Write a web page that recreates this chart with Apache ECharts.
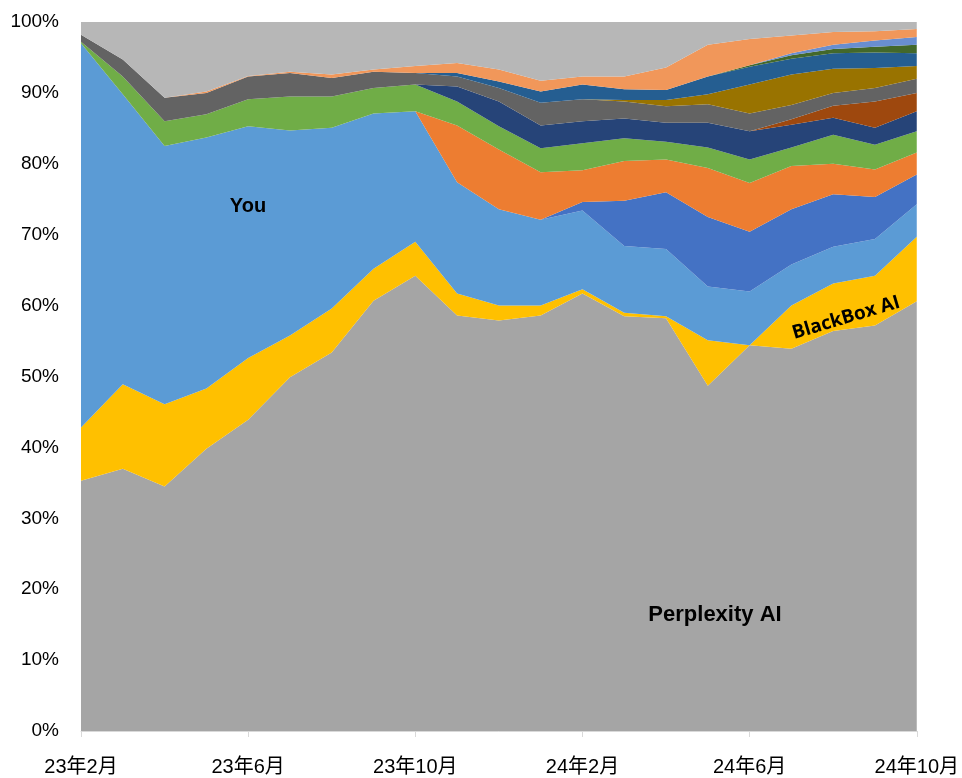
<!DOCTYPE html>
<html>
<head>
<meta charset="utf-8">
<script src="https://cdn.jsdelivr.net/npm/echarts@6/dist/echarts.min.js"></script>
<style>
  html, body { margin: 0; padding: 0; background: #fff; }
  #chart { width: 962px; height: 778px; }
</style>
</head>
<body>
<div id="chart"></div>
<script>
// 월별 카테고리 (23년2월 ~ 24년10월)
const months = [
  '23年2月', '23年3月', '23年4月', '23年5月', '23年6月', '23年7月', '23年8月',
  '23年9月', '23年10月', '23年11月', '23年12月', '24年1月', '24年2月', '24年3月',
  '24年4月', '24年5月', '24年6月', '24年7月', '24年8月', '24年9月', '24年10月'
];

// 아래에서 위로 쌓이는 순서 (%)
const perplexity = [35.3, 37.0, 34.5, 39.8, 43.9, 49.9, 53.4, 60.7, 64.2, 58.6, 57.9, 58.6, 61.7, 58.5, 58.2, 48.7, 54.4, 53.9, 56.4, 57.2, 60.6];
const blackbox   = [7.5, 11.9, 11.6, 8.5, 8.7, 5.9, 6.2, 4.5, 4.8, 3.1, 2.1, 1.4, 0.6, 0.5, 0.3, 6.4, 0, 6.1, 6.7, 7.0, 9.1];
const you        = [54.2, 40.9, 36.4, 35.4, 32.7, 28.9, 25.5, 21.9, 18.4, 15.7, 13.6, 12.1, 11.1, 9.4, 9.5, 7.6, 7.6, 5.8, 5.2, 5.2, 4.6];
const blue       = [0, 0, 0, 0, 0, 0, 0, 0, 0, 0, 0, 0, 1.2, 6.4, 8.0, 9.8, 8.4, 7.8, 7.4, 5.9, 4.2];
const orange     = [0, 0, 0, 0, 0, 0, 0, 0, 0, 8.0, 8.4, 6.7, 4.5, 5.6, 4.6, 6.9, 6.9, 6.1, 4.3, 3.9, 3.1];
const green      = [0.2, 2.5, 3.5, 3.3, 3.8, 4.8, 4.4, 3.6, 3.8, 3.4, 3.3, 3.4, 3.8, 3.2, 2.5, 2.9, 3.3, 2.6, 4.1, 3.5, 3.0];
const navy       = [0, 0, 0, 0, 0, 0, 0, 0, 0, 2.1, 3.5, 3.2, 3.1, 2.8, 2.7, 3.5, 4.0, 3.2, 2.4, 2.4, 2.8];
const brown      = [0, 0, 0, 0, 0, 0, 0, 0, 0, 0, 0, 0, 0, 0, 0, 0, 0, 0.8, 1.7, 3.7, 2.6];
const darkGray   = [1.0, 2.4, 3.3, 3.0, 3.2, 3.3, 2.6, 2.3, 1.6, 1.4, 1.9, 3.2, 3.1, 2.4, 2.3, 2.6, 2.5, 2.0, 1.8, 1.9, 2.0];
const olive      = [0, 0, 0, 0, 0, 0, 0, 0, 0, 0, 0, 0, 0, 0.2, 0.9, 1.4, 4.1, 4.3, 3.4, 2.8, 1.8];
const darkBlue   = [0, 0, 0, 0, 0, 0, 0, 0, 0, 0.5, 0.9, 1.6, 2.1, 1.5, 1.4, 2.5, 2.5, 2.2, 2.2, 2.2, 1.8];
const darkGreen  = [0, 0, 0, 0, 0, 0, 0, 0, 0, 0, 0, 0, 0, 0, 0, 0, 0.2, 0.5, 0.6, 0.8, 1.2];
const lightBlue  = [0, 0, 0, 0, 0, 0, 0, 0, 0, 0, 0, 0, 0, 0, 0, 0, 0, 0.3, 0.6, 0.9, 1.1];
const lightOrange= [0, 0, 0, 0.2, 0.1, 0.2, 0.5, 0.3, 1.0, 1.4, 1.7, 1.5, 1.1, 1.8, 3.2, 4.5, 3.7, 2.5, 1.8, 1.3, 1.1];
const others     = [1.8, 5.3, 10.7, 9.8, 7.6, 7.0, 7.4, 6.7, 6.2, 5.8, 6.7, 8.3, 7.7, 7.7, 6.4, 3.2, 2.4, 1.9, 1.4, 1.3, 1.0];

const yTicks = [0, 10, 20, 30, 40, 50, 60, 70, 80, 90, 100];

// 시리즈 정의 (이름, 데이터, 색상)
const layers = [
  ['Perplexity AI', perplexity, '#A5A5A5'],
  ['BlackBox AI', blackbox, '#FFC000'],
  ['You', you, '#5B9BD5'],
  ['s4', blue, '#4472C4'],
  ['s5', orange, '#ED7D31'],
  ['s6', green, '#70AD47'],
  ['s7', navy, '#264478'],
  ['s8', brown, '#9E480E'],
  ['s9', darkGray, '#636363'],
  ['s10', olive, '#997300'],
  ['s11', darkBlue, '#255E91'],
  ['s12', darkGreen, '#43682B'],
  ['s13', lightBlue, '#698ED0'],
  ['s14', lightOrange, '#F1975A'],
  ['s15', others, '#B7B7B7']
];

const labelFont = "'Liberation Sans', Arial, 'Noto Sans CJK JP', sans-serif";

const chart = echarts.init(document.getElementById('chart'), null, { renderer: 'canvas' });

chart.setOption({
  animation: false,
  backgroundColor: '#fff',
  grid: { left: 81, right: 44, top: 22, bottom: 47 },
  xAxis: {
    type: 'category',
    data: months,
    boundaryGap: false,
    axisLine: { lineStyle: { color: '#D9D9D9', width: 1 } },
    axisTick: { show: true, interval: 3, length: 6, lineStyle: { color: '#D9D9D9' } },
    axisLabel: {
      interval: 3,
      margin: 26,
      fontSize: 20,
      color: '#000',
      fontFamily: labelFont
    },
    splitLine: { show: false }
  },
  yAxis: {
    type: 'value',
    min: yTicks[0],
    max: yTicks[yTicks.length - 1],
    interval: 10,
    axisLine: { show: false },
    axisTick: { show: false },
    splitLine: { show: false },
    axisLabel: {
      margin: 22,
      fontSize: 19,
      color: '#000',
      fontFamily: labelFont,
      formatter: '{value}%'
    }
  },
  series: layers.map(([name, data, color]) => ({
    name: name,
    type: 'line',
    stack: 'total',
    data: data,
    symbol: 'none',
    color: color,
    lineStyle: { width: 0 },
    areaStyle: { color: color, opacity: 1 },
    emphasis: { disabled: true }
  })),
  graphic: [
    {
      type: 'text', x: 248, y: 206, z: 100,
      style: { text: 'You', fill: '#000', font: "bold 20px 'Liberation Sans', Arial", align: 'center', verticalAlign: 'middle' }
    },
    {
      type: 'text', x: 715, y: 615, z: 100,
      style: { text: 'Perplexity AI', fill: '#000', font: "bold 22px 'Liberation Sans', Arial", align: 'center', verticalAlign: 'middle' }
    },
    {
      type: 'text', x: 846, y: 318, z: 100, rotation: 0.29,
      style: { text: 'BlackBox AI', fill: '#000', font: "bold 19px 'Open Sans', 'Liberation Sans'", align: 'center', verticalAlign: 'middle' }
    }
  ]
});
</script>
</body>
</html>
